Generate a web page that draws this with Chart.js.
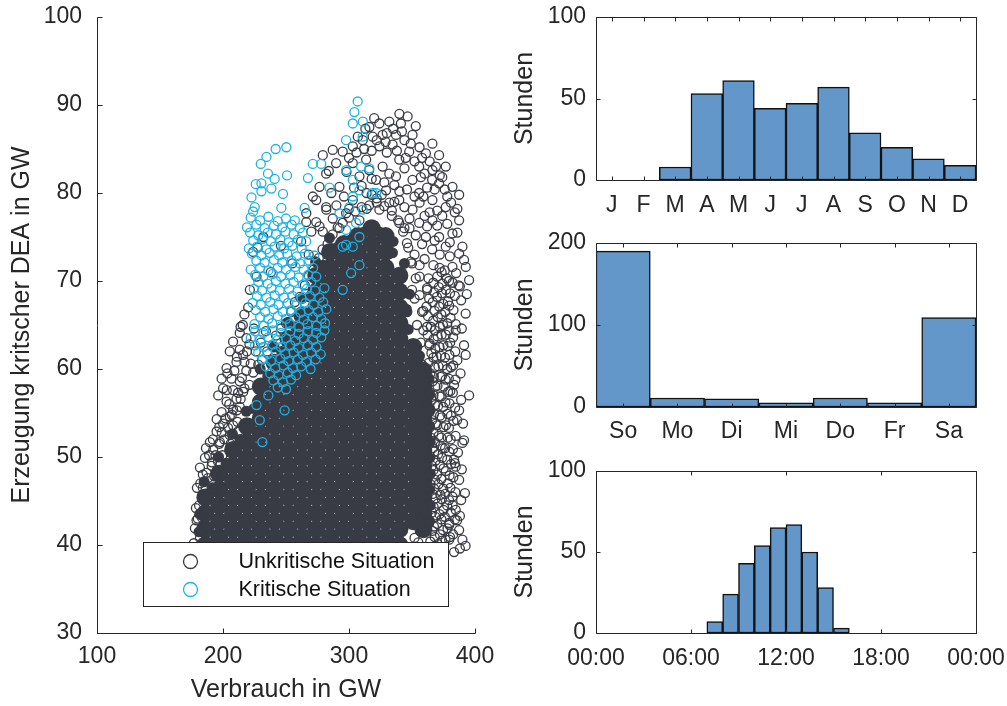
<!DOCTYPE html>
<html>
<head>
<meta charset="utf-8">
<script src="https://cdn.jsdelivr.net/npm/chart.js@4.4.1/dist/chart.umd.min.js"></script>
<style>
  html, body { margin: 0; padding: 0; background: #fff; }
  #wrap { position: relative; width: 1007px; height: 706px; overflow: hidden; }
  canvas { position: absolute; }
</style>
</head>
<body>
<div id="wrap">
  <canvas id="streu" width="520" height="706" style="left:0;top:0"></canvas>
  <canvas id="monate" width="530" height="230" style="left:500px;top:0"></canvas>
  <canvas id="tage" width="530" height="232" style="left:500px;top:228px"></canvas>
  <canvas id="stunden" width="530" height="250" style="left:500px;top:456px"></canvas>
</div>
<script>
// --- Histogramme (Stunden je Kategorie) ---
const monate = ['J', 'F', 'M', 'A', 'M', 'J', 'J', 'A', 'S', 'O', 'N', 'D'];
const monatWerte = [0, 0, 8, 53, 61, 44, 47, 57, 29, 20, 13, 9];

const wochentage = ['So', 'Mo', 'Di', 'Mi', 'Do', 'Fr', 'Sa'];
const tagWerte = [190, 11, 10, 5, 11, 5, 109];

const stundenBeginn = [7, 8, 9, 10, 11, 12, 13, 14, 15];
const stundenWerte = [7, 24, 43, 54, 65, 67, 50, 28, 3];

// --- Streudiagramm: Verbrauch (GW) gegen Erzeugung kritischer DEA (GW) ---
// dichter Kern der unkritischen Punkte (Spalten x, je Spalte die y-Werte)
const kernX = [186, 197, 208, 219, 230, 241, 252, 263, 274, 285, 296, 307, 318, 329, 340, 351, 359];
const kernY = [
  [40.0, 41.8, 43.6, 45.4],
  [40.9, 42.7, 44.5, 46.3, 48.1],
  [40.0, 41.8, 43.6, 45.4, 47.2, 49.0, 50.8],
  [40.9, 42.7, 44.5, 46.3, 48.1, 49.9, 51.7, 53.5],
  [40.0, 41.8, 43.6, 45.4, 47.2, 49.0, 50.8, 52.6, 54.4, 56.2, 58.0],
  [40.9, 42.7, 44.5, 46.3, 48.1, 49.9, 51.7, 53.5, 55.3, 57.1, 58.9, 60.7],
  [40.0, 41.8, 43.6, 45.4, 47.2, 49.0, 50.8, 52.6, 54.4, 56.2, 58.0, 59.8, 61.6, 63.4],
  [40.9, 42.7, 44.5, 46.3, 48.1, 49.9, 51.7, 53.5, 55.3, 57.1, 58.9, 60.7, 62.5, 64.3, 66.1],
  [40.0, 41.8, 43.6, 45.4, 47.2, 49.0, 50.8, 52.6, 54.4, 56.2, 58.0, 59.8, 61.6, 63.4, 65.2, 67.0, 68.8, 70.6],
  [40.9, 42.7, 44.5, 46.3, 48.1, 49.9, 51.7, 53.5, 55.3, 57.1, 58.9, 60.7, 62.5, 64.3, 66.1, 67.9, 69.7, 71.5, 73.3],
  [40.0, 41.8, 43.6, 45.4, 47.2, 49.0, 50.8, 52.6, 54.4, 56.2, 58.0, 59.8, 61.6, 63.4, 65.2, 67.0, 68.8, 70.6, 72.4, 74.2],
  [40.9, 42.7, 44.5, 46.3, 48.1, 49.9, 51.7, 53.5, 55.3, 57.1, 58.9, 60.7, 62.5, 64.3, 66.1, 67.9, 69.7, 71.5, 73.3, 75.1],
  [40.0, 41.8, 43.6, 45.4, 47.2, 49.0, 50.8, 52.6, 54.4, 56.2, 58.0, 59.8, 61.6, 63.4, 65.2, 67.0, 68.8, 70.6, 72.4, 74.2, 76.0],
  [40.9, 42.7, 44.5, 46.3, 48.1, 49.9, 51.7, 53.5, 55.3, 57.1, 58.9, 60.7, 62.5, 64.3, 66.1, 67.9, 69.7, 71.5, 73.3, 75.1],
  [40.0, 41.8, 43.6, 45.4, 47.2, 49.0, 50.8, 52.6, 54.4, 56.2, 58.0, 59.8, 61.6, 63.4, 65.2, 67.0, 68.8, 70.6],
  [42.7, 44.5, 46.3, 48.1, 49.9, 51.7, 53.5, 55.3, 57.1, 58.9, 60.7, 62.5],
  [41.8, 43.6, 45.4, 47.2, 49.0, 50.8, 52.6, 54.4, 56.2, 58.0, 59.8]
];

// dichte Punkte am Kernrand (füllen die Stufen zwischen den Spalten)
const kernRand = [
  [191.5,46.5],[202.5,49.3],[213.5,52.0],[224.5,55.5],[235.5,59.2],[246.5,62.0],[257.5,64.8],[268.5,68.2],
  [279.5,71.8],[290.5,73.8],[301.5,74.7],[312.5,75.6],[323.5,75.6],[334.5,73.2],[345.5,66.8],[355.0,61.2],
  [364.0,42.7],[364.5,44.5],[364.0,46.3],[364.5,48.1],[364.0,49.9],[364.5,51.7],[364.0,53.5],[364.5,55.3],
  [364.0,57.1],[363.5,58.9],[346.0,66.5],[347.0,64.5],[348.0,68.5],[356.0,61.5],[344.0,72.0],[335.0,74.5],
  [181.0,41.5],[181.5,43.5],[185.0,47.2],[196.5,50.0],[207.5,52.6],[218.5,55.2],[229.5,60.0],[240.5,62.5],
  [251.5,65.3],[262.5,68.0],[273.5,72.2],[284.5,74.9]
];

// einzeln sichtbare unkritische Punkte
const unkritPunkte = [
  // linker Rand
  [208.0,63.1],[213.3,62.2],[205.4,62.0],[216.0,61.6],[210.7,60.8],[202.8,60.1],[198.9,58.9],[206.8,58.9],
  [213.3,58.6],[200.1,57.8],[208.0,57.6],[216.0,57.4],[196.2,57.0],[202.8,56.3],[210.7,56.6],[213.3,55.7],
  [198.9,55.1],[205.4,54.6],[200.1,53.8],[208.0,53.6],[194.9,52.9],[189.6,51.7],[197.5,51.7],[205.4,52.5],
  [192.2,50.8],[185.7,49.9],[181.7,48.8],[188.0,47.6],[179.3,46.5],[184.9,45.3],[178.5,44.2],[183.3,43.1],
  [177.7,41.9],[181.7,40.8],[191.2,49.4],[193.6,46.3],[186.5,51.0],[199.5,50.2],[195.0,54.3],[211.5,54.0],
  [218.5,59.8],[221.0,62.8],[224.5,64.6],[203.5,59.5],[180.0,43.0],[176.8,40.2],[186.0,42.0],[182.0,47.0],
  [203.0,57.6],[205.0,56.0],[209.0,59.8],[212.0,57.3],[215.0,59.0],[217.0,60.8],[219.0,62.0],[208.0,55.4],
  [202.0,54.4],[197.0,53.4],[192.0,52.0],[199.0,52.8],[206.0,51.5],[212.0,52.9],[196.0,49.5],[189.0,50.2],
  [184.0,48.0],[193.0,47.8],[188.0,45.6],[183.0,41.6],[179.0,42.8],[185.0,43.8],[214.0,64.8],[217.0,66.2],
  [211.0,61.4],[222.0,60.6],[226.0,62.0],[230.0,63.0],[234.0,64.3],
  // Rand des dichten Kerns (links oben bis rechts)
  [181.0,44.5],[184.0,46.5],[187.0,48.2],[191.0,49.0],[194.0,50.2],[197.0,51.5],[201.0,52.0],[204.0,53.3],
  [207.0,54.8],[211.0,55.3],[214.0,56.6],[217.0,57.8],[221.0,58.2],[224.0,59.6],[228.0,60.5],[231.0,61.0],
  [235.0,62.0],[239.0,62.6],[242.0,63.8],[246.0,64.6],[250.0,65.2],[254.0,66.5],[257.0,67.6],[261.0,68.2],
  [265.0,69.5],[268.0,70.6],[272.0,71.3],[276.0,72.6],[279.0,73.6],[283.0,74.2],[287.0,75.3],[291.0,76.1],
  [295.0,76.6],[300.0,77.2],[305.0,77.9],[310.0,78.4],[316.0,78.6],[322.0,78.9],[328.0,78.5],[334.0,78.0],
  [339.0,76.9],[343.0,75.6],[347.0,73.8],[350.0,72.0],[353.0,70.3],[356.0,68.4],[359.0,66.6],[362.0,64.8],
  [364.0,62.9],
  // unter den kritischen Punkten
  [221.3,69.0],[226.6,70.5],[223.9,73.3],[227.6,73.8],[215.7,65.0],[213.3,64.1],[218.6,63.5],[220.0,67.0],
  [232.0,75.0],[238.0,71.0],[246.0,74.0],[255.0,72.0],[262.0,74.5],[268.0,73.0],
  // oberer Bereich
  [266.1,76.7],[274.0,76.7],[279.2,75.6],[270.1,75.6],[287.1,77.1],[292.4,76.0],[276.6,80.7],[274.0,79.2],
  [282.0,78.1],[286.0,80.0],[284.0,82.5],
  [346.5,88.7],[332.0,88.1],[324.1,87.9],[341.2,87.9],[316.2,87.5],[350.4,86.6],[337.3,86.6],[326.7,86.6],
  [318.8,86.4],[310.9,86.0],[334.6,85.5],[324.1,85.3],[366.2,85.6],[303.0,85.3],[287.1,84.9],[295.0,84.7],
  [347.8,84.7],[361.0,84.5],[371.5,84.3],[279.2,84.3],[339.9,83.8],[313.6,83.8],[303.0,83.4],[289.8,83.4],
  [326.7,83.0],[355.7,83.0],[376.8,83.0],[366.2,82.6],[281.9,82.2],[337.3,81.9],[350.4,81.5],[321.5,81.5],
  [308.3,81.9],[371.5,81.1],[382.1,80.7],[292.4,80.7],[329.4,80.3],[355.7,80.0],[271.3,79.6],[387.4,79.8],
  [366.2,79.2],[339.9,79.2],[303.0,79.2],[281.9,78.4],[376.8,78.4],[350.4,78.1],[324.1,78.1],[266.1,77.7],
  [366.2,76.9],[387.4,76.9],[382.1,75.4],[390.0,73.9],[376.8,73.9],[387.4,73.1],[371.5,75.0],[361.0,75.0],
  [355.7,76.6],[339.9,76.6],[308.3,76.9],[297.7,77.7],[276.6,76.2],[392.7,71.6],[382.1,71.6],
  [344.0,86.0],[356.0,85.2],[330.0,84.6],[318.0,84.8],[352.0,83.6],[344.0,82.8],[332.0,82.2],[316.0,82.6],
  [360.0,82.2],[372.0,82.0],[298.0,82.4],[346.0,80.4],[336.0,80.9],[362.0,80.6],[376.0,80.4],[314.0,80.0],
  [322.0,79.4],[356.0,78.9],[344.0,78.4],[332.0,78.9],[370.0,78.0],[381.0,78.9],[314.0,78.2],[364.0,77.8],
  [348.0,77.1],[334.0,77.4],[378.0,76.5],[386.0,75.5],[370.0,76.3],[358.0,74.2],[366.0,73.6],[372.0,73.0],
  [380.0,72.8],[385.0,70.9],[388.0,69.4],[376.0,71.2],[367.0,71.8],[360.0,72.5],[352.0,73.0],[346.0,74.3],
  [356.0,70.5],[362.0,69.0],[352.0,68.0],[358.0,66.5],
  [300.0,84.0],[306.0,84.6],[312.0,85.0],[322.0,86.0],[329.0,85.8],[338.0,84.8],[349.0,85.6],[358.0,84.0],
  [364.0,83.6],[369.0,83.0],[374.0,81.8],[368.0,80.4],[359.0,79.6],[352.0,79.6],[340.0,80.2],[328.0,81.2],
  [318.0,81.6],[310.0,80.8],[304.0,80.6],[296.0,79.6],[290.0,78.6],[300.0,78.2],[318.0,79.8],[336.0,79.0],
  [326.0,79.8],[348.0,76.0],[360.0,77.4],[374.0,77.4],[380.0,74.4],[368.0,74.6],[362.0,76.2],[384.0,77.8],
  [378.0,79.6],[386.0,78.2],[342.0,87.0],[335.0,87.3],[320.0,88.5],[313.0,87.3],[307.0,86.4],[353.0,87.6],
  [340.0,89.0],[330.0,86.8],[345.0,84.0],[357.0,81.8],[366.0,81.5],
  // rechter Kernrand
  [357.0,63.0],[354.0,65.0],[350.0,69.0],[356.0,71.8],[349.0,72.2],[353.0,75.2],[344.0,76.0],[359.0,64.4],
  [358.0,60.5],[360.0,58.5],[361.0,56.0],[355.0,40.3],[358.0,41.5],[360.0,43.5],[361.0,45.5],[352.0,40.8],
  // rechtes Band
  [364.5,40.4],[366.2,41.6],[363.6,42.5],[365.8,43.7],[364.1,44.6],[366.4,45.8],[364.8,46.9],[363.5,47.8],
  [365.9,49.0],[364.3,50.1],[366.5,51.0],[364.9,52.2],[363.7,53.3],[366.0,54.2],[364.4,55.4],[365.7,56.5],
  [363.9,57.4],[366.3,58.6],[364.6,59.5],[363.2,60.7],[365.4,61.8],[363.8,62.7],[362.4,63.9],[364.9,64.8],
  [362.7,66.0],[361.5,67.1],[363.6,68.0],[361.9,69.2],[363.1,70.3],
  [368.0,40.9],[367.4,42.1],[368.6,43.2],[367.2,44.3],[368.8,45.3],[367.5,46.4],[368.3,47.4],[367.0,48.5],
  [368.7,49.6],[367.6,50.6],[368.2,51.7],[367.1,52.8],[368.9,53.8],[367.4,54.9],[368.4,55.9],[367.0,57.0],
  [368.6,58.0],[367.3,59.1],[368.1,60.2],[366.9,61.3],[368.5,62.3],[367.2,63.4],[368.0,64.4],[366.8,65.5],
  [367.9,66.6],[366.5,67.6],[367.7,68.7],[366.9,69.8],
  [370.5,40.1],[372.2,41.2],[370.0,42.4],[371.8,43.5],[370.4,44.7],[372.5,45.7],[370.9,46.9],[369.8,48.0],
  [372.0,49.1],[370.6,50.3],[372.7,51.3],[371.1,52.4],[369.9,53.6],[372.3,54.7],[370.7,55.8],[371.9,56.9],
  [370.2,58.1],[372.6,59.1],[371.0,60.3],[369.6,61.4],[371.8,62.5],[370.3,63.7],[372.1,64.8],[370.5,65.9],
  [371.6,67.1],[369.7,68.2],[371.3,69.3],[370.0,70.5],[371.9,71.5],
  [373.9,40.5],[374.6,41.7],[373.4,42.9],[375.0,44.0],[373.7,45.2],[374.8,46.4],[373.3,47.5],[375.1,48.7],
  [373.8,49.9],[374.5,51.0],[373.2,52.2],[375.0,53.4],[373.6,54.5],[374.7,55.7],[373.4,56.9],[375.2,58.0],
  [373.8,59.2],[374.4,60.4],[373.1,61.5],[374.9,62.7],[373.5,63.9],[374.6,65.0],[373.3,66.2],[374.8,67.4],
  [373.7,68.6],[374.2,69.7],[373.5,71.0],
  [376.6,40.6],[378.2,41.9],[376.1,43.2],[377.9,44.5],[376.4,45.8],[378.5,47.0],[376.8,48.4],[378.0,49.7],
  [376.3,51.0],[378.4,52.2],[376.9,53.6],[378.1,54.9],[376.5,56.2],[378.6,57.4],[376.7,58.8],[377.9,60.0],
  [376.2,61.3],[378.3,62.6],[376.8,63.9],[378.0,65.2],[376.4,66.5],[378.5,67.7],[376.9,69.0],[377.6,70.3],
  [380.2,40.9],[379.6,42.3],[380.8,43.7],[379.4,45.1],[380.5,46.5],[379.8,47.9],[381.0,49.2],[379.5,50.6],
  [380.7,52.0],[379.3,53.3],[380.9,54.7],[379.7,56.1],[380.4,57.5],[379.2,58.9],[380.8,60.2],[379.6,61.6],
  [380.3,63.0],[379.1,64.4],[380.6,65.8],[379.5,67.2],[380.2,68.6],[379.4,70.0],
  [382.6,41.2],[384.1,42.9],[382.3,44.5],[384.4,46.0],[382.8,47.7],[384.0,49.3],[382.5,50.9],[384.6,52.4],
  [382.9,54.1],[384.2,55.6],[382.4,57.3],[384.5,58.8],[382.7,60.4],[384.3,62.0],[382.6,63.6],[384.7,65.1],
  [382.9,66.7],[384.0,68.3],[382.2,69.8],
  // rechter Rand
  [392.6,66.3],[384.7,64.4],[392.6,61.6],[395.3,57.0],[387.4,55.3],[390.0,51.6],[384.7,48.9],[387.4,47.4],
  [382.1,45.5],[384.7,44.0],[387.4,41.7],[379.5,42.5],[390.0,40.6],[391.3,72.4],[395.3,70.1],[389.0,67.8],
  [391.3,62.7],[383.4,58.2],[389.0,56.5],[385.8,54.2],[391.3,51.9],[383.4,49.7],[389.0,45.1],[385.8,42.8],
  [379.5,40.6],[388.5,59.5],[390.5,53.8],[386.5,50.5],[389.5,48.6],[388.0,43.3],[392.0,45.9],[386.0,61.0],
  [389.5,64.6],[387.0,69.5],[393.5,68.5],[383.4,39.2],[388.0,39.6],[392.5,39.9]
];

// kritische Situationen
const kritPunkte = [
  [306.9,90.4],[304.3,89.2],[303.0,87.9],[311.0,88.1],[297.7,86.0],[310.9,86.4],
  [250.3,85.2],[241.8,85.0],[234.5,84.1],[230.0,83.3],[271.3,83.3],[278.0,83.3],[235.7,82.2],[250.8,82.0],
  [241.0,81.6],[226.0,81.0],[230.5,81.1],[238.4,80.5],[267.4,81.7],[284.5,80.6],[222.6,79.5],[230.5,80.2],
  [247.6,79.9],[225.2,78.4],[223.9,77.9],[246.3,78.3],[264.8,78.3],
  [316.2,82.8],[303.0,81.5],[297.7,82.6],[308.3,80.3],[303.0,79.6],[321.5,80.0],[300.3,78.4],[310.9,78.1],
  [305.6,76.6],[297.7,75.8],[308.3,75.0],[295.0,73.9],[303.0,73.9],[308.3,71.8],[301.7,70.9],[295.0,69.0],
  [309.6,83.0],[318.8,80.0],[292.4,77.7],[297.7,74.1],
  [226.6,55.9],[229.2,54.2],[248.9,55.3],[231.3,51.7],[236.0,57.0],
  [222,77.2],[229.5,76.9],[236,77.3],[243.5,76.8],[250,77.1],[257,76.9],
  [219,76.1],[226.5,76.4],[233,76.0],[240.5,76.3],[247,76.1],[254.5,76.4],[261,76.0],
  [221.5,75.5],[228,75.2],[235.5,75.5],[242,75.3],[249.5,75.6],[256,75.3],[263.5,75.5],
  [224,74.6],[231.5,74.8],[238,74.5],[245.5,74.7],[252,74.4],[259.5,74.7],[266,74.5],
  [220.5,73.7],[227,73.9],[234.5,73.6],[241,73.9],[248.5,73.7],[255,74.0],[262.5,73.7],
  [223,73.1],[230.5,72.9],[237,73.2],[244.5,72.9],[251,73.1],[258.5,72.8],[265,73.1],[272.5,72.9],
  [226.5,72.3],[233,72.1],[240.5,72.4],[247,72.1],[254.5,72.3],[261,72.0],[268.5,72.3],
  [222,71.3],[229.5,71.5],[236,71.2],[243.5,71.5],[250,71.3],[257.5,71.6],[264,71.3],[271.5,71.5],
  [225.5,70.7],[232,70.5],[239.5,70.8],[246,70.5],[253.5,70.7],[260,70.4],[267.5,70.7],[274,70.5],
  [228,69.9],[235.5,69.7],[242,70.0],[249.5,69.7],[256,69.9],[263.5,69.6],[270,69.9],
  [224.5,69.1],[231,68.9],[238.5,69.2],[245,68.9],[252.5,69.1],[259,68.8],[266.5,69.1],[273,68.9],[280.5,69.2],
  [227,68.3],[234.5,68.1],[241,68.4],[248.5,68.1],[255,68.3],[262.5,68.0],[269,68.3],[276.5,68.1],
  [223.5,67.5],[230,67.3],[237.5,67.6],[244,67.3],[251.5,67.5],[258,67.2],[265.5,67.5],[272,67.3],[279.5,67.6],
  [226,66.7],[233.5,66.5],[240,66.8],[247.5,66.5],[254,66.7],[261.5,66.4],[268,66.7],[275.5,66.5],[282,66.8],
  [229.5,65.9],[236,65.7],[243.5,66.0],[250,65.7],[257.5,65.9],[264,65.6],[271.5,65.9],[278,65.7],
  [225,65.1],[232.5,64.9],[239,65.2],[246.5,64.9],[253,65.1],[260.5,64.8],[267,65.1],[274.5,64.9],[281,65.2],
  [225.5,64.3],[232,64.1],[239.5,64.4],[246,64.1],[253.5,64.3],[260,64.0],[267.5,64.3],[274,64.1],[280.5,64.4],
  [222,63.5],[229.5,63.3],[236,63.6],[243.5,63.3],[250,63.5],[257.5,63.2],[264,63.5],[271.5,63.3],[278,63.6],
  [225.5,62.7],[232,62.5],[239.5,62.8],[246,62.5],[253.5,62.7],[260,62.4],[267.5,62.7],[274,62.5],
  [228,61.9],[235.5,61.7],[242,62.0],[249.5,61.7],[256,61.9],[263.5,61.6],[270,61.9],[277.5,61.7],
  [231.5,61.1],[238,60.9],[245.5,61.2],[252,60.9],[259.5,61.1],[266,60.8],[273.5,61.1],
  [234,60.3],[241.5,60.1],[248,60.4],[255.5,60.1],[262,60.3],[269.5,60.0],
  [237.5,59.5],[244,59.3],[251.5,59.6],[258,59.3],
  [240,58.7],[247.5,58.5],[254,58.8],
  [243.5,57.9],[250,57.7]
];

const DUNKEL = 'rgb(56,59,67)';
const CYAN = 'rgb(28,178,230)';
const BALKEN = '#6397c9';
const TEXT = '#262626';
const SCHRIFT = "'Liberation Sans', Arial, Helvetica, sans-serif";

Chart.defaults.font.family = SCHRIFT;
Chart.defaults.color = TEXT;

// Achsenrahmen mit nach innen zeigenden Teilstrichen (MATLAB-Stil)
const rahmen = {
  id: 'rahmen',
  afterDatasetsDraw(chart, args, opts) {
    const { ctx, chartArea: a, scales } = chart;
    const r = v => Math.round(v) + 0.5;
    const L = opts.len || 5;
    ctx.save();
    ctx.strokeStyle = TEXT;
    ctx.lineWidth = 1;
    ctx.beginPath();
    ctx.moveTo(r(a.left), r(a.top));
    ctx.lineTo(r(a.left), r(a.bottom));
    ctx.lineTo(r(a.right), r(a.bottom));
    if (opts.box) {
      ctx.lineTo(r(a.right), r(a.top));
      ctx.lineTo(r(a.left), r(a.top));
    }
    scales.x.ticks.forEach((t, i) => {
      const p = r(scales.x.getPixelForTick(i));
      ctx.moveTo(p, r(a.bottom)); ctx.lineTo(p, r(a.bottom) - L);
      if (opts.box) { ctx.moveTo(p, r(a.top)); ctx.lineTo(p, r(a.top) + L); }
    });
    scales.y.ticks.forEach((t, i) => {
      const p = r(scales.y.getPixelForTick(i));
      ctx.moveTo(r(a.left), p); ctx.lineTo(r(a.left) + L, p);
      if (opts.box) { ctx.moveTo(r(a.right), p); ctx.lineTo(r(a.right) - L, p); }
    });
    ctx.stroke();
    ctx.restore();
  }
};

// Legende im Diagramm, unten links
const legende = {
  id: 'legende',
  afterDraw(chart) {
    const { ctx, chartArea: a } = chart;
    const x0 = Math.round(a.left + 46) + 0.5, y0 = Math.round(a.bottom - 91) + 0.5;
    ctx.save();
    ctx.fillStyle = '#fff';
    ctx.fillRect(x0, y0, 305, 64);
    ctx.strokeStyle = TEXT;
    ctx.lineWidth = 1;
    ctx.strokeRect(x0, y0, 305, 64);
    const eintraege = [['Unkritische Situation', DUNKEL], ['Kritische Situation', CYAN]];
    ctx.font = '21.5px ' + SCHRIFT;
    ctx.textBaseline = 'middle';
    eintraege.forEach(([txt, farbe], i) => {
      const y = y0 + 19 + i * 28;
      ctx.beginPath();
      ctx.arc(x0 + 47, y, 7, 0, Math.PI * 2);
      ctx.lineWidth = 1.3;
      ctx.strokeStyle = farbe;
      ctx.stroke();
      ctx.fillStyle = '#111';
      ctx.fillText(txt, x0 + 95, y + 1);
    });
    ctx.restore();
  }
};

const tickFont = { size: 23, lineHeight: 1.2 };
const titelFont = { size: 25, lineHeight: 1.2 };
const keinGitter = len => ({ display: false, drawTicks: true, tickLength: len });

// --- Streudiagramm ---
const kernPunkte = [];
kernX.forEach((x, i) => kernY[i].forEach(y => kernPunkte.push({ x, y })));

new Chart(document.getElementById('streu'), {
  type: 'scatter',
  data: {
    datasets: [
      {
        label: 'Kritische Situation',
        data: kritPunkte.map(([x, y]) => ({ x, y })),
        borderColor: CYAN, backgroundColor: 'rgba(0,0,0,0)',
        pointRadius: 4.5, borderWidth: 1.3
      },
      {
        label: 'Unkritische Situation',
        data: unkritPunkte.map(([x, y]) => ({ x, y })),
        borderColor: DUNKEL, backgroundColor: 'rgba(0,0,0,0)',
        pointRadius: 4.5, borderWidth: 1.3
      },
      {
        label: 'Unkritische Situation (Rand, dicht)',
        data: kernRand.map(([x, y]) => ({ x, y })),
        borderColor: DUNKEL, backgroundColor: DUNKEL,
        pointRadius: 5.5, borderWidth: 0
      },
      {
        label: 'Unkritische Situation (dicht)',
        data: kernPunkte,
        borderColor: DUNKEL, backgroundColor: DUNKEL,
        pointRadius: 9, borderWidth: 0
      }
    ]
  },
  options: {
    responsive: false,
    animation: false,
    events: [],
    layout: { padding: { top: 17, right: 45, left: 0, bottom: 0 } },
    plugins: { legend: { display: false }, tooltip: { enabled: false }, rahmen: { len: 5, box: false } },
    scales: {
      x: {
        type: 'linear', min: 100, max: 400,
        grid: keinGitter(10), border: { display: false },
        ticks: { stepSize: 100, padding: 0, font: tickFont, color: TEXT },
        title: { display: true, text: 'Verbrauch in GW', font: titelFont, color: TEXT, padding: { top: 0, bottom: 1 } },
        afterFit(s) { s.height = 73; }
      },
      y: {
        type: 'linear', min: 30, max: 100,
        grid: keinGitter(15), border: { display: false },
        ticks: { stepSize: 10, padding: 0, font: tickFont, color: TEXT },
        title: { display: true, text: 'Erzeugung kritscher DEA in GW', font: titelFont, color: TEXT, padding: { top: 7, bottom: 0 } },
        afterFit(s) { s.width = 97; }
      }
    }
  },
  plugins: [rahmen, legende]
});

// --- Balkendiagramme ---
function balkenOptionen(padTop, xHoehe, yMax, yStep, xAbstand, xAchse) {
  return {
    responsive: false,
    animation: false,
    events: [],
    layout: { padding: { top: padTop, right: 54, left: 0, bottom: 0 } },
    plugins: { legend: { display: false }, tooltip: { enabled: false }, rahmen: { len: 4, box: true } },
    scales: {
      x: Object.assign({
        grid: keinGitter(xAbstand), border: { display: false },
        afterFit(s) { s.height = xHoehe; }
      }, xAchse, {
        ticks: Object.assign({ padding: 0, font: tickFont, color: TEXT, autoSkip: false, maxRotation: 0 }, xAchse.ticks || {})
      }),
      y: {
        min: 0, max: yMax,
        grid: keinGitter(10), border: { display: false },
        ticks: { stepSize: yStep, padding: 0, font: tickFont, color: TEXT },
        title: { display: true, text: 'Stunden', font: titelFont, color: TEXT, padding: { top: 10, bottom: 0 } },
        afterFit(s) { s.width = 96; }
      }
    }
  };
}

const balkenStil = {
  backgroundColor: BALKEN, borderColor: '#111', borderWidth: 1.5,
  borderSkipped: false, barPercentage: 1, categoryPercentage: 1
};

new Chart(document.getElementById('monate'), {
  type: 'bar',
  data: { labels: monate, datasets: [Object.assign({ label: 'Stunden', data: monatWerte }, balkenStil)] },
  options: balkenOptionen(17, 50, 100, 50, 12, {}),
  plugins: [rahmen]
});

new Chart(document.getElementById('tage'), {
  type: 'bar',
  data: { labels: wochentage, datasets: [Object.assign({ label: 'Stunden', data: tagWerte }, balkenStil)] },
  options: balkenOptionen(15, 53, 200, 100, 11, {}),
  plugins: [rahmen]
});

new Chart(document.getElementById('stunden'), {
  type: 'bar',
  data: {
    datasets: [Object.assign({
      label: 'Stunden',
      data: stundenBeginn.map((h, i) => ({ x: h + 0.5, y: stundenWerte[i] }))
    }, balkenStil)]
  },
  options: balkenOptionen(15, 73, 100, 50, 12, {
    type: 'linear', min: 0, max: 24, offset: false,
    ticks: {
      stepSize: 6,
      callback: v => String(v % 24).padStart(2, '0') + ':00'
    }
  }),
  plugins: [rahmen]
});
</script>
</body>
</html>
